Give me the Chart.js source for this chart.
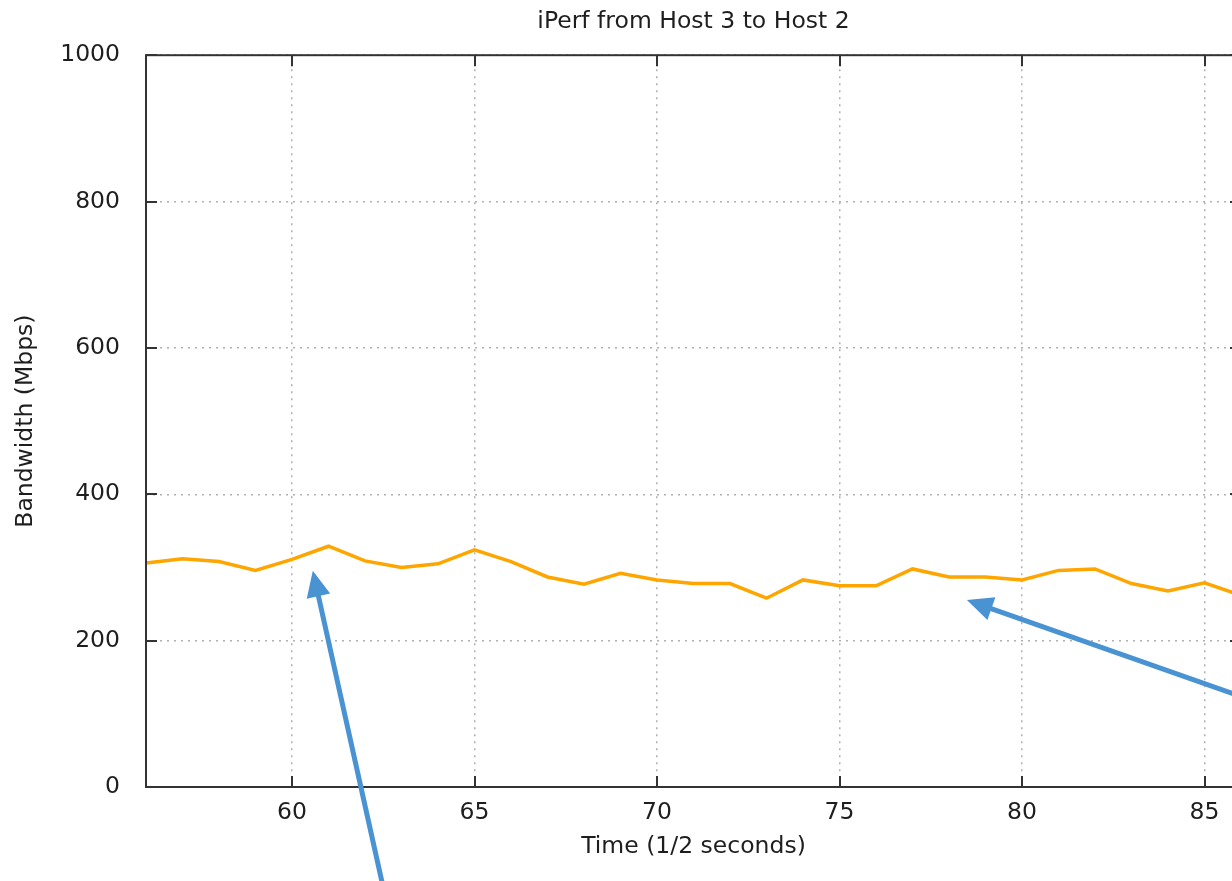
<!DOCTYPE html>
<html>
<head>
<meta charset="utf-8">
<script src="https://cdn.jsdelivr.net/npm/chart.js@4"></script>
<style>
  html, body { margin: 0; padding: 0; background: #fff; overflow: hidden; }
  #wrap { width: 1250px; height: 881px; }
</style>
</head>
<body>
<div id="wrap"><canvas id="iperfChart" width="1250" height="881"></canvas></div>
<script>
const timeSteps = [56, 57, 58, 59, 60, 61, 62, 63, 64, 65, 66, 67, 68, 69, 70,
                   71, 72, 73, 74, 75, 76, 77, 78, 79, 80, 81, 82, 83, 84, 85, 86];
const bandwidth = [306, 312, 308, 296, 311, 329, 309, 300, 305, 324, 308, 287, 277, 292, 283,
                   278, 278, 258, 283, 275, 275, 298, 287, 287, 283, 296, 298, 278, 268, 279, 262];
const xTicks = [60, 65, 70, 75, 80, 85];
const yTicks = [0, 200, 400, 600, 800, 1000];
// blue callout arrows, [tailX, tailY, tipX, tipY] in data units
const arrows = [[62.52, -142, 60.57, 295.5], [86.52, 114.6, 78.49, 255.5]];

const font = { family: 'DejaVu Sans', size: 23.5, weight: 'normal' };
const textColor = '#1e1e1e';

// gnuplot style frame with inward ticks + the arrows
const framePlugin = {
    id: 'frame',
    afterDraw(chart) {
        const { ctx, chartArea: a, scales } = chart;
        ctx.save();
        ctx.strokeStyle = '#333';
        ctx.lineWidth = 2;
        ctx.strokeRect(a.left, a.top, a.right - a.left, a.bottom - a.top);
        const tl = 11;
        ctx.beginPath();
        xTicks.forEach(v => {
            const px = Math.round(scales.x.getPixelForValue(v));
            ctx.moveTo(px, a.bottom); ctx.lineTo(px, a.bottom - tl);
            ctx.moveTo(px, a.top); ctx.lineTo(px, a.top + tl);
        });
        yTicks.forEach(v => {
            const py = Math.round(scales.y.getPixelForValue(v));
            ctx.moveTo(a.left, py); ctx.lineTo(a.left + tl, py);
            ctx.moveTo(a.right, py); ctx.lineTo(a.right - tl, py);
        });
        ctx.stroke();

        ctx.strokeStyle = '#4a93d2';
        ctx.fillStyle = '#4a93d2';
        ctx.lineWidth = 5;
        arrows.forEach(([x0, y0, x1, y1]) => {
            const sx = scales.x.getPixelForValue(x0), sy = scales.y.getPixelForValue(y0);
            const ex = scales.x.getPixelForValue(x1), ey = scales.y.getPixelForValue(y1);
            const ang = Math.atan2(ey - sy, ex - sx);
            const head = 26, half = 12;
            const bx = ex - head * Math.cos(ang), by = ey - head * Math.sin(ang);
            ctx.beginPath();
            ctx.moveTo(sx, sy);
            ctx.lineTo(bx + 4 * Math.cos(ang), by + 4 * Math.sin(ang));
            ctx.stroke();
            ctx.beginPath();
            ctx.moveTo(ex, ey);
            ctx.lineTo(bx - half * Math.sin(ang), by + half * Math.cos(ang));
            ctx.lineTo(bx + half * Math.sin(ang), by - half * Math.cos(ang));
            ctx.closePath();
            ctx.fill();
        });
        ctx.restore();
    }
};

const ctx = document.getElementById('iperfChart').getContext('2d');
const iperfChart = new Chart(ctx, {
    type: 'line',
    data: {
        datasets: [{
            label: 'Bandwidth',
            data: timeSteps.map((t, i) => ({ x: t, y: bandwidth[i] })),
            borderColor: '#ffa500',
            borderWidth: 3.5,
            pointRadius: 0,
            tension: 0,
            fill: false
        }]
    },
    options: {
        responsive: false,
        animation: false,
        layout: { padding: { left: 0, right: 9, top: 0, bottom: 0 } },
        plugins: {
            legend: { display: false },
            tooltip: { enabled: false },
            title: {
                display: true,
                fullSize: false,
                text: 'iPerf from Host 3 to Host 2',
                font: font,
                color: textColor,
                padding: { top: 8, bottom: 19 }
            }
        },
        scales: {
            x: {
                type: 'linear',
                min: 56,
                max: 86,
                afterBuildTicks: (s) => { s.ticks = xTicks.map(v => ({ value: v })); },
                afterFit: (s) => { s.height = 94; },
                grid: { color: '#b0b0b0', lineWidth: 1.5, drawTicks: false },
                border: { display: false, dash: [2, 5] },
                ticks: { font: font, color: textColor, padding: 12, maxRotation: 0,
                         callback: (v) => String(v) },
                title: {
                    display: true,
                    text: 'Time (1/2 seconds)',
                    font: font,
                    color: textColor,
                    padding: { top: 0, bottom: 20 }
                }
            },
            y: {
                min: 0,
                max: 1000,
                afterBuildTicks: (s) => { s.ticks = yTicks.map(v => ({ value: v })); },
                afterFit: (s) => { s.width = 146; },
                grid: { color: '#b0b0b0', lineWidth: 1.5, drawTicks: false },
                border: { display: false, dash: [2, 5] },
                ticks: { font: font, color: textColor, padding: 26,
                         callback: (v) => String(v) },
                title: {
                    display: true,
                    text: 'Bandwidth (Mbps)',
                    font: font,
                    color: textColor,
                    padding: { top: 12, bottom: 0 }
                }
            }
        }
    },
    plugins: [framePlugin]
});
</script>
</body>
</html>
